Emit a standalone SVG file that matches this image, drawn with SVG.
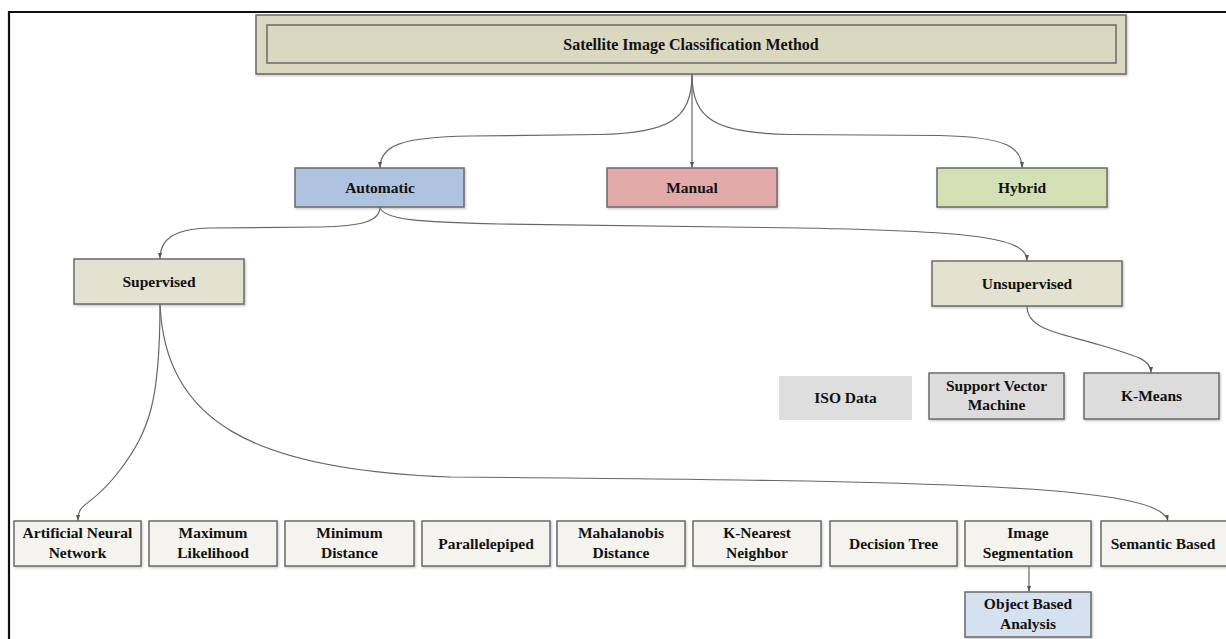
<svg xmlns="http://www.w3.org/2000/svg" width="1226" height="639" viewBox="0 0 1226 639">
<style>
.box{stroke:#6a6a6a;stroke-width:1.5;filter:url(#sh)}
.t{font-family:"Liberation Serif","Times New Roman",serif;font-weight:bold;font-size:15.5px;fill:#111;text-anchor:middle}
.c{fill:none;stroke:#666;stroke-width:1.2}
.a{marker-end:url(#ah)}
.row{fill:#f4f3ee}
</style>
<defs>
<filter id="sh" x="-5%" y="-5%" width="110%" height="120%">
<feDropShadow dx="1" dy="1.2" stdDeviation="0.8" flood-color="#888" flood-opacity="0.5"/>
</filter>
<marker id="ah" markerUnits="userSpaceOnUse" markerWidth="7" markerHeight="7" viewBox="0 0 7 7" refX="6" refY="3.5" orient="auto">
<path d="M0,1.5 L6,3.5 L0,5.5 Z" fill="#555"/>
</marker>
</defs>
<rect width="1226" height="639" fill="#fff"/>
<path d="M9,639 L9,12 L1226,12" fill="none" stroke="#111" stroke-width="2.2"/>

<g id="connectors">
<path class="c a" d="M692,74 L692,168"/>
<path class="c a" d="M692,74 C692,120 668,133 600,134.5 L470,136 C400,137 380,146 380,168"/>
<path class="c a" d="M692,74 C692,120 716,133 790,134.5 L940,135.5 C1008,137 1022,148 1022,168"/>
<path class="c a" d="M380,207 C380,222 360,226 320,227 L210,228 C172,229 160,240 160,259"/>
<path class="c a" d="M380,207 C382,220 420,222 500,224 L800,228 C990,231 1027,240 1027,261"/>
<path class="c a" d="M1027,306 C1027,330 1060,333 1100,345 C1140,357 1151,360 1151,373"/>
<path class="c a" d="M160,304 C160,400 150,430 120,470 S78,500 78,521"/>
<path class="c a" d="M160,304 C165,420 250,470 450,477 C950,481 1160,485 1168,521"/>
<path class="c a" d="M1029,566 L1029,592"/>
</g>

<g id="n-title">
<rect class="box" x="256" y="15" width="870" height="59" fill="#dbd8c1"/>
<rect x="267" y="25" width="849" height="38" fill="none" stroke="#6a6a6a" stroke-width="1.5"/>
<text class="t" x="691" y="49.5" style="font-size:16px">Satellite Image Classification Method</text>
</g>
<g id="n-automatic">
<rect class="box" x="295" y="168" width="169" height="39" fill="#aec3e0"/>
<text class="t" x="380" y="193">Automatic</text>
</g>
<g id="n-manual">
<rect class="box" x="607" y="168" width="170" height="39" fill="#e3aaaa"/>
<text class="t" x="692" y="193">Manual</text>
</g>
<g id="n-hybrid">
<rect class="box" x="937" y="168" width="170" height="39" fill="#d2e0b3"/>
<text class="t" x="1022" y="193">Hybrid</text>
</g>
<g id="n-supervised">
<rect class="box" x="74" y="259" width="170" height="45" fill="#e3e1d0"/>
<text class="t" x="159" y="287">Supervised</text>
</g>
<g id="n-unsupervised">
<rect class="box" x="932" y="261" width="190" height="45" fill="#e3e1d0"/>
<text class="t" x="1027" y="289">Unsupervised</text>
</g>
<g id="n-iso">
<rect x="779" y="376" width="133" height="44" fill="#dedede"/>
<text class="t" x="845.5" y="403">ISO Data</text>
</g>
<g id="n-svm">
<rect class="box" x="929" y="373" width="135" height="46" fill="#dcdcdc"/>
<text class="t" x="996.5" y="391">Support Vector</text>
<text class="t" x="996.5" y="410">Machine</text>
</g>
<g id="n-kmeans">
<rect class="box" x="1084" y="373" width="135" height="46" fill="#dcdcdc"/>
<text class="t" x="1151.5" y="401">K-Means</text>
</g>
<g id="n-ann">
<rect class="box row" x="14" y="521" width="127" height="45"/>
<text class="t" x="77.5" y="538">Artificial Neural</text>
<text class="t" x="77.5" y="558">Network</text>
</g>
<g id="n-maxlik">
<rect class="box row" x="149" y="521" width="128" height="45"/>
<text class="t" x="213" y="538">Maximum</text>
<text class="t" x="213" y="558">Likelihood</text>
</g>
<g id="n-mindist">
<rect class="box row" x="285" y="521" width="129" height="45"/>
<text class="t" x="349.5" y="538">Minimum</text>
<text class="t" x="349.5" y="558">Distance</text>
</g>
<g id="n-para">
<rect class="box row" x="422" y="521" width="128" height="45"/>
<text class="t" x="486" y="548.5">Parallelepiped</text>
</g>
<g id="n-maha">
<rect class="box row" x="557" y="521" width="128" height="45"/>
<text class="t" x="621" y="538">Mahalanobis</text>
<text class="t" x="621" y="558">Distance</text>
</g>
<g id="n-knn">
<rect class="box row" x="693" y="521" width="128" height="45"/>
<text class="t" x="757" y="538">K-Nearest</text>
<text class="t" x="757" y="558">Neighbor</text>
</g>
<g id="n-dtree">
<rect class="box row" x="830" y="521" width="127" height="45"/>
<text class="t" x="893.5" y="548.5">Decision Tree</text>
</g>
<g id="n-imgseg">
<rect class="box row" x="965" y="521" width="126" height="45"/>
<text class="t" x="1028" y="538">Image</text>
<text class="t" x="1028" y="558">Segmentation</text>
</g>
<g id="n-semantic">
<rect class="box row" x="1101" y="521" width="127" height="45"/>
<text class="t" x="1163" y="548.5">Semantic Based</text>
</g>
<g id="n-object">
<rect class="box" x="965" y="592" width="126" height="45" fill="#d6e1ef"/>
<text class="t" x="1028" y="609">Object Based</text>
<text class="t" x="1028" y="629">Analysis</text>
</g>
</svg>
